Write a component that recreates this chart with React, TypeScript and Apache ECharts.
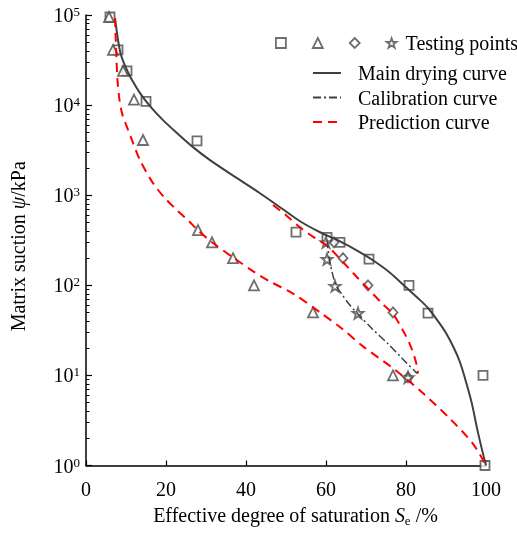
import React, { useEffect, useRef } from "react";
import * as echarts from "echarts";

// ---------- data (Se in %, suction in kPa) ----------
const xTickValues = [0, 20, 40, 60, 80, 100];
const yDecades = [1, 10, 100, 1000, 10000, 100000];
const minorMultipliers = [2, 3, 4, 5, 6, 7, 8, 9];

const mainDrying: [number, number][] = [
  [7.25, 92700], [8, 52800], [8.75, 35900], [10, 25800], [11.5, 18950],
  [13.5, 13600], [16, 9750], [19.25, 6810], [22.75, 4890], [26.75, 3415],
  [31, 2450], [37.75, 1545], [43.5, 1052], [48.5, 736], [53.5, 514],
  [58.5, 388], [63.5, 308], [68, 240], [72, 186], [76, 138],
  [80, 95], [83, 72], [85.5, 56], [88, 40], [90, 29.5],
  [92, 20], [93.5, 14], [95, 8.5], [96.5, 4.8], [97.75, 2.6],
  [99, 1.5], [100, 1],
];

const calibration: [number, number][] = [
  [60.25, 316], [60.8, 200], [61.5, 141], [62.5, 100], [64, 79],
  [66, 60], [68, 48], [71.5, 33], [75.25, 23], [79, 15.5], [82.75, 10.5],
];

const predictionDrying: [number, number][] = [
  [7.25, 92700], [7.43, 52800], [7.63, 31600], [7.88, 18950], [8.38, 11370],
  [9.13, 7740], [10.25, 5700], [11.5, 4080], [13.5, 2450], [16.75, 1360],
  [19.75, 926], [23, 664], [25.5, 528], [28, 408], [31.5, 300],
  [36.75, 204], [42, 141], [46, 110], [51.75, 81], [58.5, 50],
  [64, 33], [69.25, 21], [76.75, 12], [83.5, 6.8], [91, 3.3],
  [96.75, 1.74], [100, 1],
];

const predictionCalibrated: [number, number][] = [
  [46.75, 780], [50, 600], [53.5, 440], [57, 340], [60.25, 275],
  [64, 186], [67.75, 123], [71, 87], [74, 63], [76.75, 48],
  [79, 33], [81, 22], [82.5, 14], [83, 10.5],
];

const squarePoints: [number, number][] = [
  [6, 95000], [8, 41000], [10.25, 24000], [15, 11000], [27.75, 4000],
  [52.5, 390], [60.25, 340], [63.5, 300], [70.75, 195], [80.75, 100],
  [85.5, 49], [99.25, 10], [99.75, 1],
];
const trianglePoints: [number, number][] = [
  [5.75, 95000], [6.75, 41000], [9.25, 24000], [12, 11500], [14.25, 4100],
  [28, 410], [31.5, 300], [36.75, 200], [42, 100], [56.75, 50], [76.75, 10],
];
const diamondPoints: [number, number][] = [
  [62, 300], [64.25, 200], [70.5, 100], [76.75, 50], [80.5, 9.5],
];
const starPoints: [number, number][] = [
  [60, 300], [60.25, 195], [62.25, 98], [68, 49], [80.5, 9.5],
];

const STAR =
  "path://M0,-10L2.35,-3.24L9.51,-3.09L3.8,1.24L5.88,8.09L0,4L-5.88,8.09L-3.8,1.24L-9.51,-3.09L-2.35,-3.24Z";
const FONT = "Liberation Serif";
const MARK = "#4a4a4a";

export default function App() {
  const ref = useRef<HTMLDivElement>(null);
  useEffect(() => {
    if (!ref.current) return;
    const chart = echarts.init(ref.current, undefined, { renderer: "svg" });
    const minorTicks = yDecades.slice(0, -1).flatMap((d) => minorMultipliers.map((m) => m * d));
    const gridPos = { left: 86, right: 31, top: 15, bottom: 67.5 };
    const markerStyle = { color: "#fff", borderColor: MARK, borderWidth: 1.8 };

    chart.setOption({
      animation: false,
      textStyle: { fontFamily: FONT, color: "#000" },
      grid: [gridPos, { ...gridPos }],
      xAxis: [
        {
          type: "value", gridIndex: 0, min: 0, max: 100, interval: 20,
          axisLine: { show: true, lineStyle: { color: "#000", width: 1.5 } },
          axisTick: { show: true, inside: true, length: 5, lineStyle: { color: "#000", width: 1.2 }, customValues: xTickValues },
          axisLabel: { fontSize: 20, color: "#000", margin: 13, fontFamily: FONT },
          splitLine: { show: false },
          name: "{a|Effective degree of saturation }{i|S}{sub|e}{a| /%}",
          nameLocation: "middle",
          nameGap: 39,
          nameTextStyle: {
            padding: [0, 0, 0, 19],
            rich: {
              a: { fontSize: 20, fontFamily: FONT, color: "#000", lineHeight: 20, verticalAlign: "top" },
              i: { fontSize: 20, fontFamily: FONT, color: "#000", fontStyle: "italic", lineHeight: 20, verticalAlign: "top" },
              sub: { fontSize: 13, fontFamily: FONT, color: "#000", lineHeight: 13, verticalAlign: "top", padding: [9, 0, 0, 0] },
            },
          },
        },
        { type: "value", gridIndex: 1, min: 0, max: 100, show: false },
      ],
      yAxis: [
        {
          type: "log", gridIndex: 0, logBase: 10, min: 1, max: 100000,
          axisLine: { show: true, lineStyle: { color: "#000", width: 1.5 } },
          axisTick: { show: true, inside: true, length: 6, lineStyle: { color: "#000", width: 1.2 } },
          axisLabel: {
            margin: 6,
            formatter: (v: number) => `{b|10}{s|${Math.round(Math.log10(v))}}`,
            rich: {
              b: { fontSize: 20, fontFamily: FONT, color: "#000", lineHeight: 20, verticalAlign: "top" },
              s: { fontSize: 13, fontFamily: FONT, color: "#000", lineHeight: 13, verticalAlign: "top" },
            },
          },
          splitLine: { show: false },
          name: "{a|Matrix suction }{i|ψ}{a|/kPa}",
          nameLocation: "middle",
          nameRotate: 90,
          nameGap: 58,
          nameTextStyle: {
            padding: [0, 12, 0, 0],
            rich: {
              a: { fontSize: 20, fontFamily: FONT, color: "#000" },
              i: { fontSize: 20, fontFamily: FONT, color: "#000", fontStyle: "italic" },
            },
          },
        },
        {
          type: "log", gridIndex: 1, logBase: 10, min: 1, max: 100000,
          axisLine: { show: false },
          axisLabel: { show: false },
          splitLine: { show: false },
          axisTick: { show: true, inside: true, length: 3.5, customValues: minorTicks, lineStyle: { color: "#000", width: 1 } },
        },
      ],
      legend: [
        {
          data: ["Square points", "Triangle points", "Diamond points", "Testing points"],
          orient: "horizontal",
          left: 275,
          top: 33,
          width: 400,
          padding: 0,
          itemWidth: 10,
          itemHeight: 10,
          itemGap: 17,
          formatter: (name: string) => (name === "Testing points" ? name : ""),
          itemStyle: { borderWidth: 1.8 },
          textStyle: { fontSize: 20, fontFamily: FONT, color: "#000", lineHeight: 20, padding: [0, 0, 0, 4] },
        },
        {
          data: ["Main drying curve", "Calibration curve", "Prediction curve"],
          orient: "vertical",
          left: 312,
          top: 63,
          padding: 0,
          itemWidth: 28,
          itemHeight: 14,
          itemGap: 4.5,
          itemStyle: { opacity: 0 },
          textStyle: { fontSize: 20, fontFamily: FONT, color: "#000", lineHeight: 20, padding: [0, 0, 0, 12] },
        },
      ],
      series: [
        {
          name: "Main drying curve", type: "line", data: mainDrying, symbol: "none", smooth: 0.3,
          lineStyle: { color: "#404040", width: 2, type: "solid" },
        },
        {
          name: "Prediction curve", type: "line", data: predictionDrying, symbol: "none", smooth: 0.3,
          lineStyle: { color: "#ff0000", width: 2, type: [9, 6] },
        },
        {
          name: "Prediction curve", type: "line", data: predictionCalibrated, symbol: "none", smooth: 0.3,
          lineStyle: { color: "#ff0000", width: 2, type: [9, 6] },
        },
        {
          name: "Calibration curve", type: "line", data: calibration, symbol: "none", smooth: 0.3,
          lineStyle: { color: "#404040", width: 1.5, type: [8, 3, 2, 3] },
        },
        { name: "Square points", type: "scatter", data: squarePoints, symbol: "rect", symbolSize: 9, itemStyle: markerStyle },
        { name: "Triangle points", type: "scatter", data: trianglePoints, symbol: "triangle", symbolSize: 10, itemStyle: markerStyle },
        { name: "Diamond points", type: "scatter", data: diamondPoints, symbol: "diamond", symbolSize: [9, 10], itemStyle: markerStyle },
        { name: "Testing points", type: "scatter", data: starPoints, symbol: STAR, symbolSize: 11, itemStyle: { color: "#fff", borderColor: MARK, borderWidth: 1.8 } },
      ],
    });
    return () => chart.dispose();
  }, []);
  return <div ref={ref} style={{ position: "fixed", left: 0, top: 0, width: 517, height: 533 }} />;
}
